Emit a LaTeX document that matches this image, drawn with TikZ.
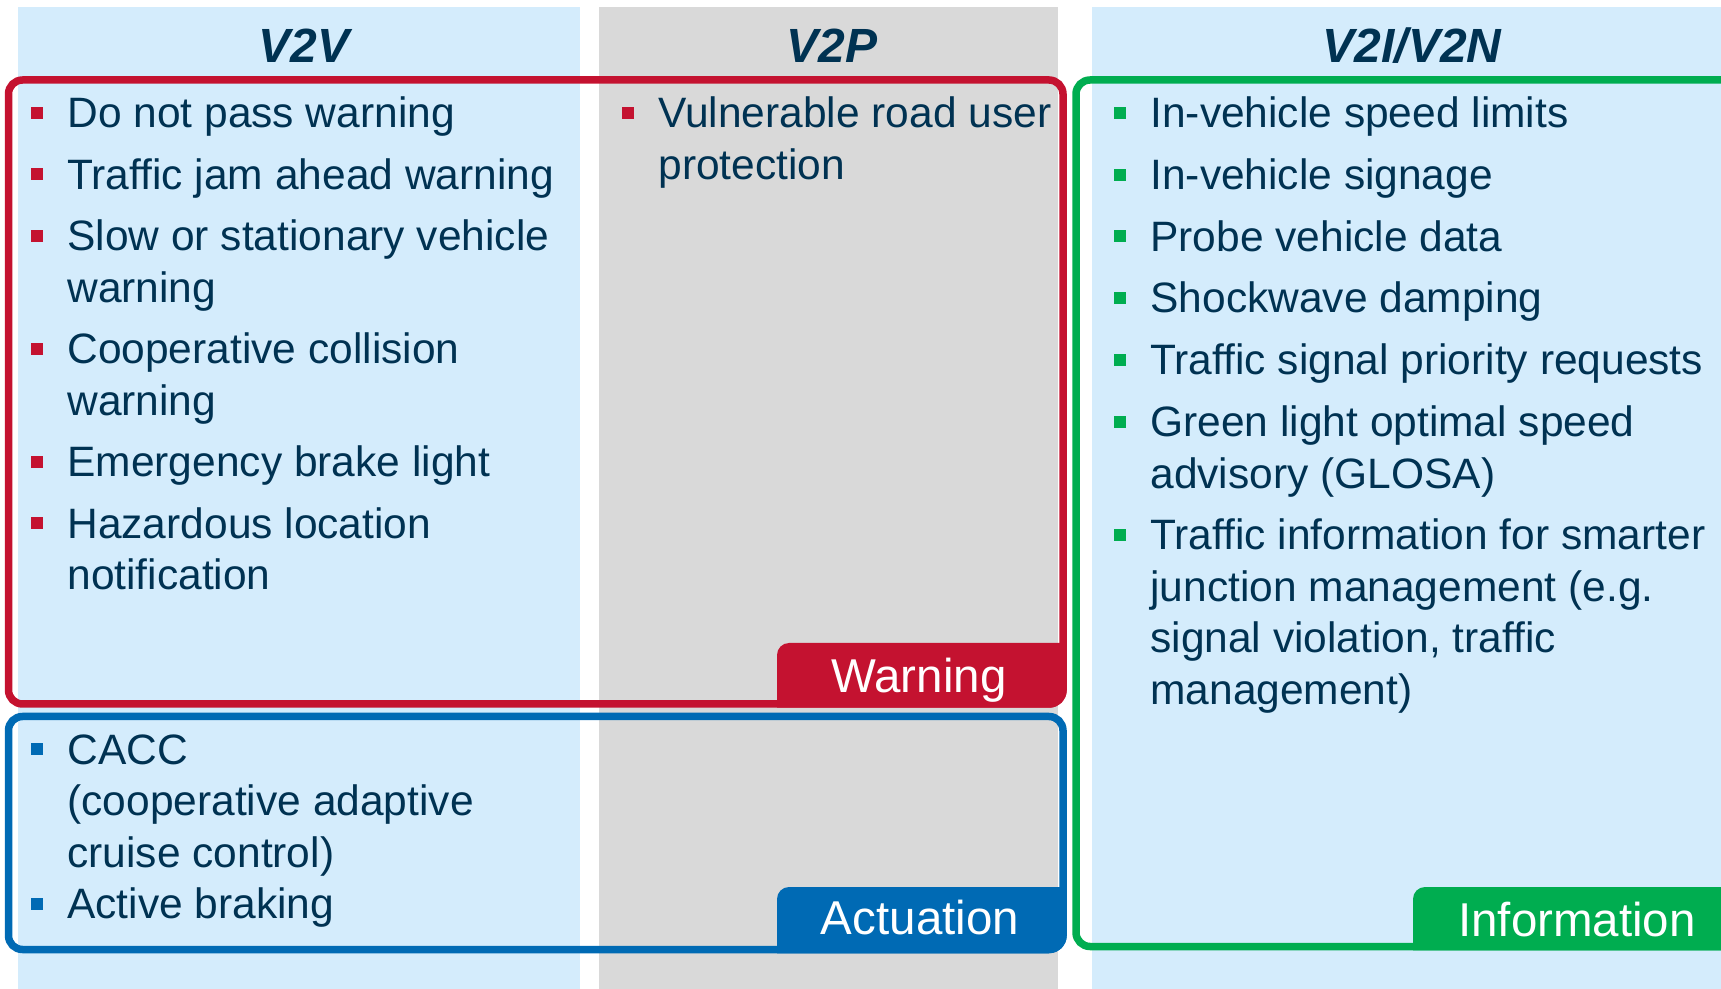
\documentclass[tikz,border=0pt]{standalone}
\usepackage{fontspec}
\setmainfont{Liberation Sans}
\definecolor{colbg}{RGB}{212,236,252}
\definecolor{colgray}{RGB}{217,217,217}
\definecolor{navy}{RGB}{0,50,82}
\definecolor{wred}{RGB}{196,18,48}
\definecolor{ablue}{RGB}{0,106,180}
\definecolor{igreen}{RGB}{0,173,80}
\tikzset{
  itemtxt/.style={anchor=base west, inner sep=0pt, text=navy, font=\fontsize{21.25pt}{25.75pt}\selectfont},
  headtxt/.style={anchor=base, inner sep=0pt, text=navy, font=\fontsize{24pt}{28pt}\selectfont\bfseries\itshape},
  tagtxt/.style={anchor=base, inner sep=0pt, text=white, font=\fontsize{23.75pt}{28pt}\selectfont},
  groupbox/.style={line width=3.75pt, rounded corners=7pt},
}
\newcommand{\vitem}[5]{%
  \fill[#2] (#3,#4-21) rectangle ++(12,12);
  \node[itemtxt] (#1) at (#3+36,#4) {\parbox[t]{600pt}{#5}};
}
\begin{document}
\begin{tikzpicture}[x=0.5pt,y=-0.5pt]
\useasboundingbox (0,0) rectangle (1721,989);
\clip (0,0) rectangle (1721,989);
% column backgrounds
\fill[colbg] (18,7) rectangle (580,989);
\fill[colgray] (599,7) rectangle (1058,989);
\fill[colbg] (1092,7) rectangle (1721,989);
% headers
\node[headtxt] (h1) at (304,63) {V2V};
\node[headtxt] (h2) at (832,63) {V2P};
\node[headtxt] (h3) at (1412,63) {V2I/V2N};
% group boxes
\draw[groupbox, wred] (8.5,80) rectangle (1063,704);
\draw[groupbox, ablue] (8.5,716.5) rectangle (1063,949.5);
\draw[groupbox, igreen] (1076,80) rectangle (1760,946.5);
% tags
\fill[wred] (777,707.75) -- (777,655) arc[start angle=180, end angle=270, radius=12]
  -- (1066.75,643) -- (1066.75,690) arc[start angle=0, end angle=90, radius=17.75] -- cycle;
\fill[ablue] (777,953.25) -- (777,899) arc[start angle=180, end angle=270, radius=12]
  -- (1066.75,887) -- (1066.75,935.5) arc[start angle=0, end angle=90, radius=17.75] -- cycle;
\fill[igreen] (1413,950.25) -- (1413,899) arc[start angle=180, end angle=270, radius=12]
  -- (1780,887) -- (1780,950.25) -- cycle;
\node[tagtxt] (tw) at (919,693) {Warning};
\node[tagtxt] (ta) at (920,935) {Actuation};
\node[tagtxt] (ti) at (1577,936) {Information};
% V2V warning items
\vitem{r1}{wred}{31}{128}{Do not pass warning}
\vitem{r2}{wred}{31}{189.5}{Traffic jam ahead warning}
\vitem{r3}{wred}{31}{251}{Slow or stationary vehicle\\warning}
\vitem{r4}{wred}{31}{364}{Cooperative collision\\warning}
\vitem{r5}{wred}{31}{477}{Emergency brake light}
\vitem{r6}{wred}{31}{538.5}{Hazardous location\\notification}
% V2P
\vitem{p1}{wred}{622}{128}{Vulnerable road user\\protection}
% V2V actuation
\vitem{b1}{ablue}{31}{764}{CACC\\(cooperative adaptive\\cruise control)}
\vitem{b2}{ablue}{31}{918.5}{Active braking}
% V2I/V2N information
\vitem{g1}{igreen}{1114}{128}{In-vehicle speed limits}
\vitem{g2}{igreen}{1114}{190}{In-vehicle signage}
\vitem{g3}{igreen}{1114}{251.5}{Probe vehicle data}
\vitem{g4}{igreen}{1114}{313}{Shockwave damping}
\vitem{g5}{igreen}{1114}{375}{Traffic signal priority requests}
\vitem{g6}{igreen}{1114}{437}{Green light optimal speed\\advisory (GLOSA)}
\vitem{g7}{igreen}{1114}{550}{Traffic information for smarter\\junction management (e.g.\\signal violation, traffic\\management)}
\end{tikzpicture}
\end{document}
